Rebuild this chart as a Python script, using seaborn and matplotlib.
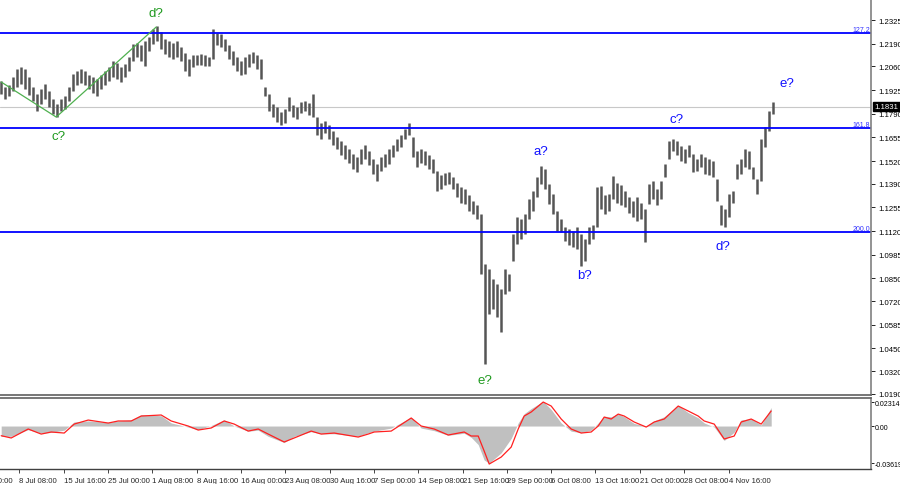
import matplotlib
matplotlib.use('Agg')
import matplotlib.pyplot as plt
import matplotlib.transforms as mtransforms
import numpy as np
import pandas as pd
import seaborn as sns

# bar highs and lows, one value per bar
highs = [
    1.1977, 1.1943, 1.1954, 1.2000, 1.2045, 1.2057, 1.2045, 1.2000, 1.1943, 1.1903,
    1.1931, 1.1960, 1.1920, 1.1874, 1.1846, 1.1874, 1.1891, 1.1943, 1.2017, 1.2034,
    1.2045, 1.2034, 1.2011, 1.2000, 1.1988, 1.2011, 1.2034, 1.2057, 1.2091, 1.2080,
    1.2057, 1.2074, 1.2114, 1.2188, 1.2194, 1.2183, 1.2205, 1.2228, 1.2274, 1.2291,
    1.2257, 1.2217, 1.2205, 1.2194, 1.2205, 1.2171, 1.2137, 1.2102, 1.2125, 1.2125,
    1.2131, 1.2125, 1.2114, 1.2274, 1.2251, 1.2245, 1.2217, 1.2183, 1.2148, 1.2114,
    1.2091, 1.2114, 1.2131, 1.2142, 1.2125, 1.2102, 1.1943, 1.1903, 1.1846, 1.1828,
    1.1800, 1.1817, 1.1886, 1.1840, 1.1828, 1.1857, 1.1863, 1.1851, 1.1903, 1.1771,
    1.1737, 1.1748, 1.1726, 1.1691, 1.1657, 1.1634, 1.1611, 1.1589, 1.1560, 1.1543,
    1.1589, 1.1611, 1.1577, 1.1531, 1.1503, 1.1543, 1.1560, 1.1589, 1.1611, 1.1646,
    1.1668, 1.1703, 1.1737, 1.1657, 1.1577, 1.1589, 1.1577, 1.1554, 1.1531, 1.1463,
    1.1440, 1.1451, 1.1457, 1.1429, 1.1394, 1.1371, 1.1360, 1.1326, 1.1292, 1.1269,
    1.1217, 1.0932, 1.0903, 1.0846, 1.0817, 1.0789, 1.0903, 1.0875, 1.1103, 1.1200,
    1.1189, 1.1217, 1.1303, 1.1349, 1.1429, 1.1491, 1.1474, 1.1389, 1.1331, 1.1234,
    1.1189, 1.1143, 1.1132, 1.1120, 1.1143, 1.1103, 1.1075, 1.1143, 1.1155, 1.1371,
    1.1377, 1.1326, 1.1331, 1.1434, 1.1394, 1.1383, 1.1349, 1.1314, 1.1292, 1.1314,
    1.1280, 1.1246, 1.1389, 1.1406, 1.1360, 1.1406, 1.1503, 1.1634, 1.1646, 1.1634,
    1.1606, 1.1589, 1.1611, 1.1560, 1.1531, 1.1560, 1.1543, 1.1531, 1.1520, 1.1417,
    1.1269, 1.1246, 1.1331, 1.1349, 1.1503, 1.1531, 1.1589, 1.1577, 1.1486, 1.1417,
    1.1646, 1.1714, 1.1806, 1.1857,
]
lows = [
    1.1903, 1.1874, 1.1891, 1.1920, 1.1943, 1.1960, 1.1931, 1.1897, 1.1863, 1.1806,
    1.1846, 1.1874, 1.1828, 1.1788, 1.1771, 1.1806, 1.1817, 1.1863, 1.1920, 1.1954,
    1.1966, 1.1954, 1.1931, 1.1908, 1.1891, 1.1931, 1.1954, 1.1977, 1.2000, 1.1988,
    1.1971, 1.2000, 1.2034, 1.2091, 1.2114, 1.2091, 1.2062, 1.2148, 1.2188, 1.2205,
    1.2160, 1.2131, 1.2114, 1.2102, 1.2114, 1.2091, 1.2034, 1.2005, 1.2057, 1.2068,
    1.2068, 1.2062, 1.2062, 1.2102, 1.2183, 1.2171, 1.2148, 1.2102, 1.2068, 1.2034,
    1.2011, 1.2017, 1.2057, 1.2080, 1.2045, 1.1988, 1.1891, 1.1806, 1.1771, 1.1743,
    1.1726, 1.1737, 1.1806, 1.1771, 1.1760, 1.1794, 1.1806, 1.1783, 1.1771, 1.1668,
    1.1646, 1.1680, 1.1646, 1.1611, 1.1589, 1.1554, 1.1531, 1.1509, 1.1474, 1.1457,
    1.1503, 1.1531, 1.1497, 1.1446, 1.1406, 1.1463, 1.1486, 1.1503, 1.1543, 1.1577,
    1.1600, 1.1646, 1.1668, 1.1543, 1.1486, 1.1509, 1.1497, 1.1474, 1.1451, 1.1349,
    1.1360, 1.1383, 1.1389, 1.1360, 1.1314, 1.1280, 1.1274, 1.1234, 1.1217, 1.1189,
    1.0875, 1.0361, 1.0646, 1.0675, 1.0629, 1.0544, 1.0761, 1.0778, 1.0949, 1.1046,
    1.1075, 1.1103, 1.1189, 1.1234, 1.1314, 1.1389, 1.1360, 1.1274, 1.1217, 1.1120,
    1.1115, 1.1063, 1.1040, 1.1029, 1.1018, 1.0920, 1.0949, 1.1046, 1.1075, 1.1143,
    1.1246, 1.1217, 1.1234, 1.1303, 1.1280, 1.1269, 1.1257, 1.1223, 1.1200, 1.1177,
    1.1189, 1.1058, 1.1274, 1.1303, 1.1269, 1.1303, 1.1429, 1.1531, 1.1577, 1.1554,
    1.1520, 1.1509, 1.1543, 1.1457, 1.1463, 1.1486, 1.1446, 1.1440, 1.1429, 1.1292,
    1.1155, 1.1143, 1.1200, 1.1280, 1.1417, 1.1446, 1.1486, 1.1474, 1.1417, 1.1331,
    1.1406, 1.1600, 1.1691, 1.1789,
]
last_price = 1.1831

# fibo levels
fib_levels = [1.2251, 1.1708, 1.1115]
fib_names = ['127.2', '161.8', '200.0']

price_ticks = [1.2325, 1.2190, 1.2060, 1.1925, 1.1790, 1.1655, 1.1520, 1.1390, 1.1255,
               1.1120, 1.0985, 1.0850, 1.0720, 1.0585, 1.0450, 1.0320, 1.0190]

# first label sits mostly off the left edge
first_date, first_pos = '1 Jul 00:00', -6.5
date_labels = ['8 Jul 08:00', '15 Jul 16:00', '25 Jul 00:00', '1 Aug 08:00',
               '8 Aug 16:00', '16 Aug 00:00', '23 Aug 08:00', '30 Aug 16:00', '7 Sep 00:00',
               '14 Sep 08:00', '21 Sep 16:00', '29 Sep 00:00', '6 Oct 08:00', '13 Oct 16:00',
               '21 Oct 00:00', '28 Oct 08:00', '4 Nov 16:00']
date_pos = [4.5, 15.75, 26.75, 37.75, 49, 60, 71, 82.25, 93.25, 104.25,
            115.5, 126.5, 137.5, 148.5, 159.75, 170.75, 182]

# oscillator (gray histogram + red signal)
osc_x = [0, 2.5, 6.75, 10, 12.5, 15.75, 18.25, 21.75, 26.75, 29.25,
         32.5, 35, 40, 42.5, 46.75, 49.25, 52.5, 55.75, 58.25, 61.75,
         64.25, 66.75, 70.75, 73.25, 77.5, 80, 83.25, 89.25, 91.75, 93.25,
         97.5, 102.5, 105, 108.25, 111.75, 115.75, 117.5, 119.25, 120.75, 122,
         125, 127.5, 129.25, 130.75, 132.5, 135.5, 137.5, 140, 142.5, 145,
         147.5, 149.25, 150.75, 152.5, 154.25, 155.75, 158.25, 161.25, 163.25, 165.75,
         169.25, 171.75, 174.25, 175.75, 178.25, 180.75, 183.25, 185, 187.5, 190,
         192.5]
osc_main = [-0.0100, -0.0100, -0.0035, -0.0070, -0.0062, -0.0040, 0.0040, 0.0050, 0.0035, 0.0050,
            0.0060, 0.0110, 0.0100, 0.0030, -0.0010, -0.0035, 0.0005, 0.0060, 0.0000, -0.0050,
            -0.0040, -0.0100, -0.0160, -0.0100, -0.0055, -0.0075, -0.0075, -0.0100, -0.0065, -0.0050,
            -0.0020, 0.0085, -0.0020, -0.0045, -0.0090, -0.0070, -0.0110, -0.0180, -0.0330, -0.0360,
            -0.0260, -0.0120, 0.0030, 0.0120, 0.0170, 0.0240, 0.0160, 0.0030, -0.0050, -0.0065,
            -0.0040, 0.0030, 0.0095, 0.0090, 0.0120, 0.0090, 0.0025, 0.0000, 0.0050, 0.0090,
            0.0200, 0.0130, 0.0080, 0.0030, -0.0010, -0.0140, -0.0060, 0.0060, 0.0070, 0.0010,
            0.0180]
osc_signal = [-0.0094, -0.0116, -0.0029, -0.0078, -0.0058, -0.0068, 0.0019, 0.0058, 0.0029, 0.0049,
              0.0049, 0.0097, 0.0107, 0.0049, 0.0, -0.0039, -0.0019, 0.0049, 0.0019, -0.0049,
              -0.0029, -0.0078, -0.0155, -0.0116, -0.0049, -0.0078, -0.0068, -0.0107, -0.0078, -0.0058,
              -0.0049, 0.0078, 0.0, -0.0029, -0.0087, -0.0058, -0.0097, -0.0097, -0.0243, -0.0369,
              -0.0301, -0.0204, -0.0029, 0.0097, 0.0136, 0.0233, 0.0194, 0.0068, -0.0029, -0.0068,
              -0.0058, 0.0, 0.0087, 0.0068, 0.0116, 0.0097, 0.0039, -0.001, 0.0039, 0.0068,
              0.0194, 0.0146, 0.0097, 0.0049, 0.0019, -0.0126, -0.0097, 0.0039, 0.0068, 0.0019,
              0.0146]
osc_ticks = [0.02314, 0.0, -0.03619]
osc_ticklabels = ['0.02314', '0.00', '-0.03619']

# wave marks
wave_names = ['d?', 'c?', 'e?', 'a?', 'b?', 'c?', 'd?', 'e?']
wave_x = [38.75, 14.25, 121, 135, 145.75, 168.75, 180.5, 196.5]
wave_y = [1.2365, 1.1663, 1.0270, 1.1577, 1.0869, 1.1760, 1.1035, 1.1965]
wave_colors = ['#1f9a1f', '#1f9a1f', '#1f9a1f', '#1010ff', '#1010ff', '#1010ff', '#1010ff', '#1010ff']
green_x = [0, 13.75, 38.75]
green_y = [1.1971, 1.1771, 1.2285]

sns.set_theme(style='white')
plt.rcParams['font.family'] = ['Liberation Sans', 'DejaVu Sans']

bars = pd.DataFrame({'bar': np.arange(len(highs)), 'high': highs, 'low': lows})
osc = pd.DataFrame({'x': osc_x, 'main': osc_main, 'signal': osc_signal})

fig = plt.figure(figsize=(9, 4.85), dpi=100)
ax1 = fig.add_axes([0, 1 - 396 / 485, 871 / 900, 396 / 485])
ax2 = fig.add_axes([0, 1 - 470 / 485, 871 / 900, 71 / 485], sharex=ax1)

# price panel
ax1.vlines(bars['bar'], bars['low'], bars['high'], color='#555555', lw=1.8)
ax1.axhline(last_price, color='#c8c8c8', lw=0.8, zorder=0)
for lvl, name in zip(fib_levels, fib_names):
    ax1.axhline(lvl, color='#0000ff', lw=1.3)
    ax1.text(217.3, lvl, name, ha='right', va='bottom', color='#3030ff', fontsize=5)
sns.lineplot(x=green_x, y=green_y, ax=ax1, color='#4fb04f', lw=0.9)
for name, x, y, c in zip(wave_names, wave_x, wave_y, wave_colors):
    ax1.text(x, y, name, ha='center', va='center', color=c, fontsize=9.5)

ax1.set_ylim(1.0184, 1.2445)
ax1.yaxis.tick_right()
ax1.set_yticks(price_ticks)
ax1.set_yticklabels([f'{t:.4f}' for t in price_ticks])
ax1.tick_params(axis='y', direction='out', length=3, width=0.6, labelsize=5.6, pad=2, colors='black')
ax1.tick_params(axis='x', bottom=False, labelbottom=False)
trans = mtransforms.blended_transform_factory(ax1.transAxes, ax1.transData)
ax1.text(1.004, last_price, f'{last_price:.4f}', transform=trans, ha='left', va='center',
         fontsize=5.6, color='white', bbox=dict(boxstyle='square,pad=0.15', fc='black', ec='black'))

# oscillator panel
ax2.fill_between(osc['x'], 0, osc['main'], color='#c0c0c0', lw=0)
sns.lineplot(data=osc, x='x', y='signal', ax=ax2, color='#ff2020', lw=0.9)
ax2.set_ylim(-0.0417, 0.0272)
ax2.yaxis.tick_right()
ax2.set_yticks(osc_ticks)
ax2.set_yticklabels(osc_ticklabels)
ax2.tick_params(axis='y', direction='out', length=2, width=0.6, labelsize=5.0, pad=1, colors='black')
ax2.set_xticks(date_pos)
ax2.set_xticklabels(date_labels)
for lab in ax2.get_xticklabels():
    lab.set_ha('left')
ax2.tick_params(axis='x', direction='out', length=3, width=0.6, labelsize=5.6, pad=3, bottom=True)
ax2.set_xlabel('')
ax2.set_ylabel('')
ax1.set_xlabel('')
ax1.set_ylabel('')
ax1.set_xlim(-0.3, 217.45)
xtrans = mtransforms.blended_transform_factory(ax2.transData, ax2.transAxes)
ax2.text(first_pos, -0.115, first_date, transform=xtrans, ha='left', va='top',
         fontsize=5.6, clip_on=False)

for ax in (ax1, ax2):
    ax.spines['left'].set_visible(False)
    ax.spines['right'].set_color('#808080')
    ax.spines['right'].set_linewidth(1.2)
ax1.spines['top'].set_visible(False)
ax1.spines['bottom'].set_color('#606060')
ax1.spines['bottom'].set_linewidth(1.2)
ax2.spines['top'].set_color('#606060')
ax2.spines['top'].set_linewidth(1.2)
ax2.spines['bottom'].set_color('#404040')
ax2.spines['bottom'].set_linewidth(1.0)

fig.savefig('out.png', dpi=100)
